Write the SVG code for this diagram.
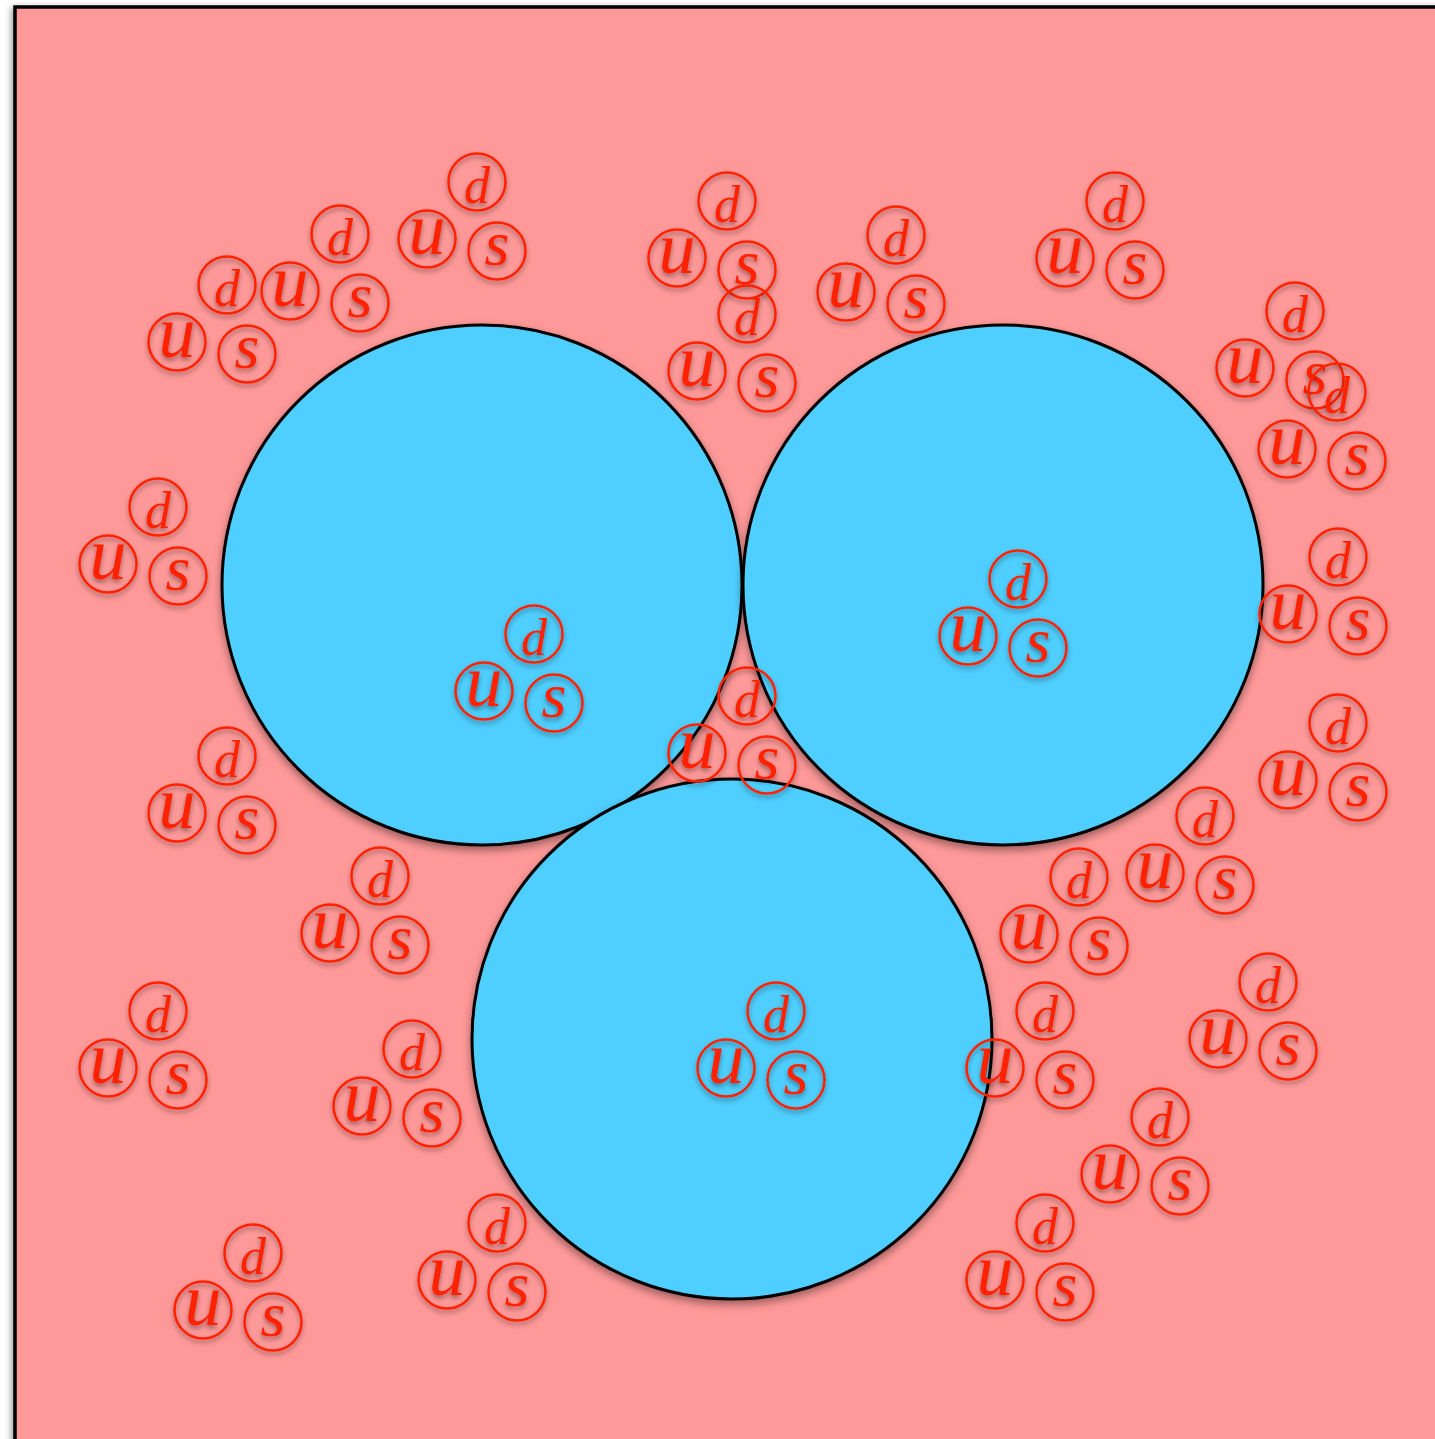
<svg xmlns="http://www.w3.org/2000/svg" width="1435" height="1439" viewBox="0 0 1435 1439">
<defs>
<filter id="sh" x="-20%" y="-20%" width="140%" height="140%"><feDropShadow dx="0" dy="3" stdDeviation="2.5" flood-color="#000" flood-opacity="0.4"/></filter>
<filter id="shb" x="-10%" y="-10%" width="120%" height="120%"><feDropShadow dx="0" dy="4" stdDeviation="4" flood-color="#000" flood-opacity="0.4"/></filter>
<filter id="shr" x="-5%" y="-5%" width="110%" height="110%"><feDropShadow dx="-2" dy="2" stdDeviation="3" flood-color="#000" flood-opacity="0.4"/></filter>
</defs>
<style>
.bg{fill:#FF9999;stroke:#000;stroke-width:3.5}
.big{fill:#4FCFFF;stroke:#000;stroke-width:3}
.q{fill:none;stroke:#FF2200;stroke-width:2.5}
.tri{filter:url(#sh)}
.l{fill:#FF2200;font-family:"Liberation Serif","Times New Roman",serif;font-style:italic;text-anchor:middle}
.d{font-size:52px}
.u{font-size:74px}
.s{font-size:64px}
</style>
<rect id="box" class="bg" x="15" y="7" width="1450" height="1460" filter="url(#shr)"/>
<g id="hadron1" filter="url(#shb)"><circle class="big" cx="482" cy="585" r="260"/></g>
<g id="hadron2" filter="url(#shb)"><circle class="big" cx="1003" cy="585" r="260"/></g>
<g id="hadron3" filter="url(#shb)"><circle class="big" cx="732" cy="1039" r="260"/></g>
<g id="quarks">
<g id="t1" class="tri" transform="translate(477 182)"><circle class="q" cx="0" cy="0" r="28.5"/><circle class="q" cx="-50" cy="57" r="28.5"/><circle class="q" cx="20" cy="69" r="28.5"/><text class="l d" x="0" y="21">d</text><text class="l u" x="-50" y="72">u</text><text class="l s" x="20" y="83">s</text></g>
<g id="t2" class="tri" transform="translate(340 234)"><circle class="q" cx="0" cy="0" r="28.5"/><circle class="q" cx="-50" cy="57" r="28.5"/><circle class="q" cx="20" cy="69" r="28.5"/><text class="l d" x="0" y="21">d</text><text class="l u" x="-50" y="72">u</text><text class="l s" x="20" y="83">s</text></g>
<g id="t3" class="tri" transform="translate(227 285)"><circle class="q" cx="0" cy="0" r="28.5"/><circle class="q" cx="-50" cy="57" r="28.5"/><circle class="q" cx="20" cy="69" r="28.5"/><text class="l d" x="0" y="21">d</text><text class="l u" x="-50" y="72">u</text><text class="l s" x="20" y="83">s</text></g>
<g id="t4" class="tri" transform="translate(727 201)"><circle class="q" cx="0" cy="0" r="28.5"/><circle class="q" cx="-50" cy="57" r="28.5"/><circle class="q" cx="20" cy="69" r="28.5"/><text class="l d" x="0" y="21">d</text><text class="l u" x="-50" y="72">u</text><text class="l s" x="20" y="83">s</text></g>
<g id="t5" class="tri" transform="translate(747 314)"><circle class="q" cx="0" cy="0" r="28.5"/><circle class="q" cx="-50" cy="57" r="28.5"/><circle class="q" cx="20" cy="69" r="28.5"/><text class="l d" x="0" y="21">d</text><text class="l u" x="-50" y="72">u</text><text class="l s" x="20" y="83">s</text></g>
<g id="t6" class="tri" transform="translate(896 235)"><circle class="q" cx="0" cy="0" r="28.5"/><circle class="q" cx="-50" cy="57" r="28.5"/><circle class="q" cx="20" cy="69" r="28.5"/><text class="l d" x="0" y="21">d</text><text class="l u" x="-50" y="72">u</text><text class="l s" x="20" y="83">s</text></g>
<g id="t7" class="tri" transform="translate(1115 201)"><circle class="q" cx="0" cy="0" r="28.5"/><circle class="q" cx="-50" cy="57" r="28.5"/><circle class="q" cx="20" cy="69" r="28.5"/><text class="l d" x="0" y="21">d</text><text class="l u" x="-50" y="72">u</text><text class="l s" x="20" y="83">s</text></g>
<g id="t8" class="tri" transform="translate(1295 311)"><circle class="q" cx="0" cy="0" r="28.5"/><circle class="q" cx="-50" cy="57" r="28.5"/><circle class="q" cx="20" cy="69" r="28.5"/><text class="l d" x="0" y="21">d</text><text class="l u" x="-50" y="72">u</text><text class="l s" x="20" y="83">s</text></g>
<g id="t9" class="tri" transform="translate(1337 392)"><circle class="q" cx="0" cy="0" r="28.5"/><circle class="q" cx="-50" cy="57" r="28.5"/><circle class="q" cx="20" cy="69" r="28.5"/><text class="l d" x="0" y="21">d</text><text class="l u" x="-50" y="72">u</text><text class="l s" x="20" y="83">s</text></g>
<g id="t10" class="tri" transform="translate(158 507)"><circle class="q" cx="0" cy="0" r="28.5"/><circle class="q" cx="-50" cy="57" r="28.5"/><circle class="q" cx="20" cy="69" r="28.5"/><text class="l d" x="0" y="21">d</text><text class="l u" x="-50" y="72">u</text><text class="l s" x="20" y="83">s</text></g>
<g id="t11" class="tri" transform="translate(534 634)"><circle class="q" cx="0" cy="0" r="28.5"/><circle class="q" cx="-50" cy="57" r="28.5"/><circle class="q" cx="20" cy="69" r="28.5"/><text class="l d" x="0" y="21">d</text><text class="l u" x="-50" y="72">u</text><text class="l s" x="20" y="83">s</text></g>
<g id="t12" class="tri" transform="translate(1018 579)"><circle class="q" cx="0" cy="0" r="28.5"/><circle class="q" cx="-50" cy="57" r="28.5"/><circle class="q" cx="20" cy="69" r="28.5"/><text class="l d" x="0" y="21">d</text><text class="l u" x="-50" y="72">u</text><text class="l s" x="20" y="83">s</text></g>
<g id="t13" class="tri" transform="translate(1338 557)"><circle class="q" cx="0" cy="0" r="28.5"/><circle class="q" cx="-50" cy="57" r="28.5"/><circle class="q" cx="20" cy="69" r="28.5"/><text class="l d" x="0" y="21">d</text><text class="l u" x="-50" y="72">u</text><text class="l s" x="20" y="83">s</text></g>
<g id="t14" class="tri" transform="translate(747 696)"><circle class="q" cx="0" cy="0" r="28.5"/><circle class="q" cx="-50" cy="57" r="28.5"/><circle class="q" cx="20" cy="69" r="28.5"/><text class="l d" x="0" y="21">d</text><text class="l u" x="-50" y="72">u</text><text class="l s" x="20" y="83">s</text></g>
<g id="t15" class="tri" transform="translate(1338 723)"><circle class="q" cx="0" cy="0" r="28.5"/><circle class="q" cx="-50" cy="57" r="28.5"/><circle class="q" cx="20" cy="69" r="28.5"/><text class="l d" x="0" y="21">d</text><text class="l u" x="-50" y="72">u</text><text class="l s" x="20" y="83">s</text></g>
<g id="t16" class="tri" transform="translate(227 756)"><circle class="q" cx="0" cy="0" r="28.5"/><circle class="q" cx="-50" cy="57" r="28.5"/><circle class="q" cx="20" cy="69" r="28.5"/><text class="l d" x="0" y="21">d</text><text class="l u" x="-50" y="72">u</text><text class="l s" x="20" y="83">s</text></g>
<g id="t17" class="tri" transform="translate(1205 816)"><circle class="q" cx="0" cy="0" r="28.5"/><circle class="q" cx="-50" cy="57" r="28.5"/><circle class="q" cx="20" cy="69" r="28.5"/><text class="l d" x="0" y="21">d</text><text class="l u" x="-50" y="72">u</text><text class="l s" x="20" y="83">s</text></g>
<g id="t18" class="tri" transform="translate(380 876)"><circle class="q" cx="0" cy="0" r="28.5"/><circle class="q" cx="-50" cy="57" r="28.5"/><circle class="q" cx="20" cy="69" r="28.5"/><text class="l d" x="0" y="21">d</text><text class="l u" x="-50" y="72">u</text><text class="l s" x="20" y="83">s</text></g>
<g id="t19" class="tri" transform="translate(1079 877)"><circle class="q" cx="0" cy="0" r="28.5"/><circle class="q" cx="-50" cy="57" r="28.5"/><circle class="q" cx="20" cy="69" r="28.5"/><text class="l d" x="0" y="21">d</text><text class="l u" x="-50" y="72">u</text><text class="l s" x="20" y="83">s</text></g>
<g id="t20" class="tri" transform="translate(1268 982)"><circle class="q" cx="0" cy="0" r="28.5"/><circle class="q" cx="-50" cy="57" r="28.5"/><circle class="q" cx="20" cy="69" r="28.5"/><text class="l d" x="0" y="21">d</text><text class="l u" x="-50" y="72">u</text><text class="l s" x="20" y="83">s</text></g>
<g id="t21" class="tri" transform="translate(158 1011)"><circle class="q" cx="0" cy="0" r="28.5"/><circle class="q" cx="-50" cy="57" r="28.5"/><circle class="q" cx="20" cy="69" r="28.5"/><text class="l d" x="0" y="21">d</text><text class="l u" x="-50" y="72">u</text><text class="l s" x="20" y="83">s</text></g>
<g id="t22" class="tri" transform="translate(776 1011)"><circle class="q" cx="0" cy="0" r="28.5"/><circle class="q" cx="-50" cy="57" r="28.5"/><circle class="q" cx="20" cy="69" r="28.5"/><text class="l d" x="0" y="21">d</text><text class="l u" x="-50" y="72">u</text><text class="l s" x="20" y="83">s</text></g>
<g id="t23" class="tri" transform="translate(1045 1011)"><circle class="q" cx="0" cy="0" r="28.5"/><circle class="q" cx="-50" cy="57" r="28.5"/><circle class="q" cx="20" cy="69" r="28.5"/><text class="l d" x="0" y="21">d</text><text class="l u" x="-50" y="72">u</text><text class="l s" x="20" y="83">s</text></g>
<g id="t24" class="tri" transform="translate(412 1049)"><circle class="q" cx="0" cy="0" r="28.5"/><circle class="q" cx="-50" cy="57" r="28.5"/><circle class="q" cx="20" cy="69" r="28.5"/><text class="l d" x="0" y="21">d</text><text class="l u" x="-50" y="72">u</text><text class="l s" x="20" y="83">s</text></g>
<g id="t25" class="tri" transform="translate(1160 1117)"><circle class="q" cx="0" cy="0" r="28.5"/><circle class="q" cx="-50" cy="57" r="28.5"/><circle class="q" cx="20" cy="69" r="28.5"/><text class="l d" x="0" y="21">d</text><text class="l u" x="-50" y="72">u</text><text class="l s" x="20" y="83">s</text></g>
<g id="t26" class="tri" transform="translate(497 1223)"><circle class="q" cx="0" cy="0" r="28.5"/><circle class="q" cx="-50" cy="57" r="28.5"/><circle class="q" cx="20" cy="69" r="28.5"/><text class="l d" x="0" y="21">d</text><text class="l u" x="-50" y="72">u</text><text class="l s" x="20" y="83">s</text></g>
<g id="t27" class="tri" transform="translate(1045 1223)"><circle class="q" cx="0" cy="0" r="28.5"/><circle class="q" cx="-50" cy="57" r="28.5"/><circle class="q" cx="20" cy="69" r="28.5"/><text class="l d" x="0" y="21">d</text><text class="l u" x="-50" y="72">u</text><text class="l s" x="20" y="83">s</text></g>
<g id="t28" class="tri" transform="translate(253 1253)"><circle class="q" cx="0" cy="0" r="28.5"/><circle class="q" cx="-50" cy="57" r="28.5"/><circle class="q" cx="20" cy="69" r="28.5"/><text class="l d" x="0" y="21">d</text><text class="l u" x="-50" y="72">u</text><text class="l s" x="20" y="83">s</text></g>
</g>
</svg>
